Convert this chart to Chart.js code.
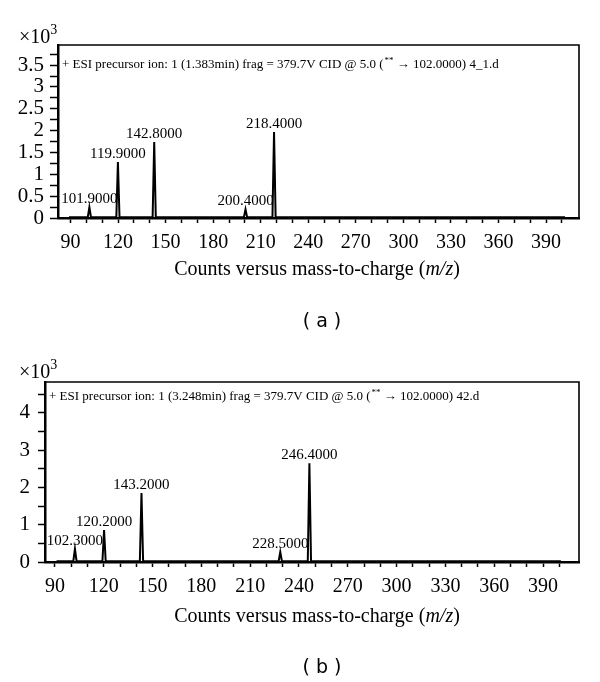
<!DOCTYPE html>
<html>
<head>
  <title>ESI precursor ion spectra</title>
  <style>
    body { margin: 0; background: #fff; }
    canvas { position: absolute; left: 0; }
    #chartA { top: 0; }
    #chartB { top: 340px; }
  </style>
</head>
<body>
  <canvas id="chartA" width="600" height="340"></canvas>
  <canvas id="chartB" width="600" height="342"></canvas>
  <script src="https://cdn.jsdelivr.net/npm/chart.js"></script>
  <script>
    // panel (a) peaks, m/z and intensity (x10^3 counts)
    const peakMzA = [101.9, 119.9, 142.8, 200.4, 218.4];
    const peakHeightA = [0.25, 1.28, 1.74, 0.2, 1.97];
    const peakLabelA = ['101.9000', '119.9000', '142.8000', '200.4000', '218.4000'];
    const scanRangeA = [89, 402];
    const headerA = '+ ESI precursor ion: 1 (1.383min) frag = 379.7V CID @ 5.0 (';
    const headerEndA = ' \u2192 102.0000) 4_1.d';

    // panel (b)
    const peakMzB = [102.3, 120.2, 143.2, 228.5, 246.4];
    const peakHeightB = [0.35, 0.86, 1.85, 0.27, 2.65];
    const peakLabelB = ['102.3000', '120.2000', '143.2000', '228.5000', '246.4000'];
    const scanRangeB = [91, 401];
    const headerB = '+ ESI precursor ion: 1 (3.248min) frag = 379.7V CID @ 5.0 (';
    const headerEndB = ' \u2192 102.0000) 42.d';

    // axes
    const xTicks = [90, 100, 110, 120, 130, 140, 150, 160, 170, 180, 190, 200, 210, 220, 230, 240,
      250, 260, 270, 280, 290, 300, 310, 320, 330, 340, 350, 360, 370, 380, 390, 400];
    const xTickLabels = [90, 120, 150, 180, 210, 240, 270, 300, 330, 360, 390];
    const yTicksA = [0, 0.25, 0.5, 0.75, 1, 1.25, 1.5, 1.75, 2, 2.25, 2.5, 2.75, 3, 3.25, 3.5, 3.75];
    const yTickLabelsA = [0, 0.5, 1, 1.5, 2, 2.5, 3, 3.5];
    const yTicksB = [0, 0.5, 1, 1.5, 2, 2.5, 3, 3.5, 4, 4.5];
    const yTickLabelsB = [0, 1, 2, 3, 4];

    const xTitle = 'Counts versus mass-to-charge (';
    const serif = '"Liberation Serif", "DejaVu Serif", serif';
    const baseLevel = 0.02;

    function buildSpectrum(mz, h, range) {
      const pts = [{ x: range[0], y: baseLevel }];
      for (let i = 0; i < mz.length; i++) {
        pts.push({ x: mz[i] - 1, y: baseLevel });
        pts.push({ x: mz[i], y: h[i] });
        pts.push({ x: mz[i] + 1, y: baseLevel });
      }
      pts.push({ x: range[1], y: baseLevel });
      return pts;
    }

    // text drawn on top: header, peak labels, x title, caption, x10^3
    const textPlugin = {
      id: 'texts',
      afterDraw(chart, args, o) {
        const ctx = chart.ctx;
        const area = chart.chartArea;
        const xs = chart.scales.x;
        const ys = chart.scales.y;
        ctx.save();
        ctx.fillStyle = '#000';
        ctx.strokeStyle = '#000';

        // frame top and right
        ctx.lineWidth = 1.6;
        ctx.beginPath();
        ctx.moveTo(area.left, area.top);
        ctx.lineTo(area.right, area.top);
        ctx.lineTo(area.right, area.bottom);
        ctx.stroke();

        // header
        ctx.textBaseline = 'middle';
        ctx.textAlign = 'left';
        ctx.font = '13px ' + serif;
        let hx = area.left + 4;
        const hy = area.top + o.headerY;
        ctx.fillText(o.header, hx, hy);
        hx += ctx.measureText(o.header).width;
        ctx.font = '9px ' + serif;
        ctx.fillText('**', hx + 1, hy - 4);
        hx += ctx.measureText('**').width + 1;
        ctx.font = '13px ' + serif;
        ctx.fillText(o.headerEnd, hx, hy);

        // peak labels
        ctx.font = '15px ' + serif;
        ctx.textAlign = 'center';
        ctx.textBaseline = 'alphabetic';
        o.mz.forEach((m, i) => {
          ctx.fillText(o.labels[i], xs.getPixelForValue(m), ys.getPixelForValue(o.h[i]) - 4);
        });

        // x10^3
        ctx.textAlign = 'left';
        ctx.font = '20px ' + serif;
        ctx.fillText('\u00d710', 19, o.expY);
        const ew = ctx.measureText('\u00d710').width;
        ctx.font = '14px ' + serif;
        ctx.fillText('3', 19 + ew, o.expY - 9);

        // x axis title
        ctx.textBaseline = 'middle';
        ctx.font = '20px ' + serif;
        const w1 = ctx.measureText(xTitle).width;
        ctx.font = 'italic 20px ' + serif;
        const w2 = ctx.measureText('m/z').width;
        ctx.font = '20px ' + serif;
        const w3 = ctx.measureText(')').width;
        let tx = 317 - (w1 + w2 + w3) / 2;
        ctx.fillText(xTitle, tx, o.titleY);
        tx += w1;
        ctx.font = 'italic 20px ' + serif;
        ctx.fillText('m/z', tx, o.titleY);
        tx += w2;
        ctx.font = '20px ' + serif;
        ctx.fillText(')', tx, o.titleY);

        // caption
        ctx.textAlign = 'center';
        ctx.font = '19px "DejaVu Sans", sans-serif';
        ctx.fillText(o.caption, 322, o.captionY);
        ctx.restore();
      }
    };

    function makeChart(id, p) {
      return new Chart(document.getElementById(id), {
        type: 'line',
        data: {
          datasets: [{
            data: buildSpectrum(p.mz, p.h, p.range),
            borderColor: '#000',
            borderWidth: 2,
            pointRadius: 0,
            tension: 0,
            fill: false
          }]
        },
        plugins: [textPlugin],
        options: {
          responsive: false,
          animation: false,
          devicePixelRatio: 1,
          layout: { padding: { top: p.top, right: 21, left: 0, bottom: 0 } },
          plugins: {
            legend: { display: false },
            tooltip: { enabled: false },
            texts: p
          },
          scales: {
            x: {
              type: 'linear',
              min: p.xMin,
              max: p.xMax,
              afterBuildTicks: (s) => { s.ticks = xTicks.map(v => ({ value: v })); },
              afterFit: (s) => { s.height = p.xHeight; },
              ticks: {
                autoSkip: false,
                maxRotation: 0,
                padding: p.xPad,
                color: '#000',
                font: { family: serif, size: 20 },
                callback: (v) => xTickLabels.includes(v) ? String(v) : ''
              },
              grid: { drawOnChartArea: false, tickLength: 5, tickColor: '#000', tickWidth: 1.5 },
              border: { color: '#000', width: 2.5 }
            },
            y: {
              min: 0,
              max: p.yMax,
              afterBuildTicks: (s) => { s.ticks = p.yTicks.map(v => ({ value: v })); },
              afterFit: (s) => { s.width = p.yWidth; },
              ticks: {
                autoSkip: false,
                padding: p.yPad,
                color: '#000',
                font: { family: serif, size: 21 },
                callback: (v) => p.yLabels.includes(v) ? String(v) : ''
              },
              grid: { drawOnChartArea: false, tickLength: p.yTick, tickColor: '#000', tickWidth: 1.5 },
              border: { color: '#000', width: 2.5 }
            }
          }
        }
      });
    }

    makeChart('chartA', {
      mz: peakMzA, h: peakHeightA, labels: peakLabelA, range: scanRangeA,
      header: headerA, headerEnd: headerEndA, headerY: 20, expY: 43,
      titleY: 270, caption: '( a )', captionY: 322,
      top: 45, xMin: 82.1, xMax: 410.8, yMax: 3.96, xHeight: 122, xPad: 8,
      yTicks: yTicksA, yLabels: yTickLabelsA, yWidth: 58, yPad: 6, yTick: 8
    });

    makeChart('chartB', {
      mz: peakMzB, h: peakHeightB, labels: peakLabelB, range: scanRangeB,
      header: headerB, headerEnd: headerEndB, headerY: 15, expY: 38,
      titleY: 277, caption: '( b )', captionY: 328,
      top: 42, xMin: 83.9, xMax: 412.1, yMax: 4.83, xHeight: 120, xPad: 8,
      yTicks: yTicksB, yLabels: yTickLabelsB, yWidth: 45, yPad: 8, yTick: 7
    });
  </script>
</body>
</html>
